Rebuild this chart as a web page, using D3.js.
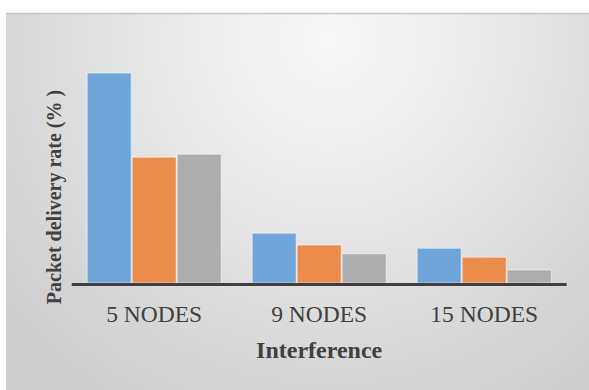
<!DOCTYPE html>
<html>
<head>
<meta charset="utf-8">
<script src="https://cdn.jsdelivr.net/npm/d3@7/dist/d3.min.js"></script>
<style>
  html, body { margin: 0; padding: 0; background: #ffffff; }
  svg { display: block; }
</style>
</head>
<body>
<div id="chart"></div>
<script>
// Packet delivery rate under interference, per network size
const categories = ["5 NODES", "9 NODES", "15 NODES"];
const seriesBlue   = [84.0, 19.9, 13.9];
const seriesOrange = [50.3, 15.2, 10.3];
const seriesGray   = [51.5, 11.7, 5.2];
const seriesNames  = ["blue", "orange", "gray"];
const seriesColors = ["#6fa5d8", "#ec8c4c", "#adadad"];
const xTitle = "Interference";
const yTitle = "Packet delivery rate (% )";

const W = 589, H = 390;
const plot = { left: 71.7, right: 566.7, top: 33, bottom: 283 };

const svg = d3.select("#chart").append("svg")
  .attr("width", W).attr("height", H);

// panel background: soft radial shading, light near the top
const defs = svg.append("defs");
const grad = defs.append("radialGradient")
  .attr("id", "panelBg")
  .attr("gradientUnits", "userSpaceOnUse")
  .attr("cx", 330).attr("cy", 40).attr("r", 420);
grad.append("stop").attr("offset", "0%").attr("stop-color", "#f8f8f8");
grad.append("stop").attr("offset", "45%").attr("stop-color", "#e6e6e6");
grad.append("stop").attr("offset", "100%").attr("stop-color", "#cdcdcd");

svg.append("rect")
  .attr("x", 6).attr("y", 13)
  .attr("width", W - 6).attr("height", H - 13)
  .attr("fill", "url(#panelBg)");
svg.append("line")
  .attr("x1", 6).attr("x2", W).attr("y1", 13.5).attr("y2", 13.5)
  .attr("stroke", "#c4c4c4").attr("stroke-width", 1.5);

// scales
const x0 = d3.scaleBand().domain(categories)
  .range([plot.left, plot.right]).paddingInner(0).paddingOuter(0);
const x1 = d3.scaleBand().domain(seriesNames)
  .range([x0.bandwidth() * 0.0909, x0.bandwidth() * 0.9091]).padding(0);
const y = d3.scaleLinear().domain([0, 100]).range([plot.bottom, plot.top]);

const rows = categories.map((c, i) => ({
  cat: c,
  vals: [seriesBlue[i], seriesOrange[i], seriesGray[i]]
}));

const groups = svg.append("g").selectAll("g")
  .data(rows).join("g")
  .attr("transform", d => `translate(${x0(d.cat)},0)`);

groups.selectAll("rect")
  .data(d => d.vals.map((v, k) => ({ v, k })))
  .join("rect")
  .attr("x", d => x1(seriesNames[d.k]) + 0.5)
  .attr("width", x1.bandwidth() - 1)
  .attr("y", d => y(d.v))
  .attr("height", d => y(0) - y(d.v))
  .attr("fill", d => seriesColors[d.k])
  .attr("stroke", "rgba(255,255,255,0.45)")
  .attr("stroke-width", 1.2);

// category axis
const xAxis = d3.axisBottom(x0).tickSize(0).tickPadding(0);
const gx = svg.append("g")
  .attr("transform", `translate(0,${plot.bottom})`)
  .call(xAxis);
gx.select(".domain")
  .attr("d", `M${plot.left},1.5H${plot.right}`)
  .attr("stroke", "#404040").attr("stroke-width", 3);
gx.selectAll(".tick text")
  .attr("y", 38.5).attr("dy", null)
  .attr("font-family", "'Liberation Serif', 'Times New Roman', serif")
  .attr("font-size", 23.5)
  .attr("fill", "#404040");

// axis titles
svg.append("text")
  .attr("x", (plot.left + plot.right) / 2)
  .attr("y", 357.5)
  .attr("text-anchor", "middle")
  .attr("font-family", "'Liberation Serif', 'Times New Roman', serif")
  .attr("font-weight", "bold")
  .attr("font-size", 24)
  .attr("fill", "#404040")
  .text(xTitle);

svg.append("text")
  .attr("transform", "translate(61,197) rotate(-90)")
  .attr("text-anchor", "middle")
  .attr("font-family", "'Liberation Serif', 'Times New Roman', serif")
  .attr("font-weight", "bold")
  .attr("font-size", 20)
  .attr("fill", "#404040")
  .text(yTitle);
</script>
</body>
</html>
